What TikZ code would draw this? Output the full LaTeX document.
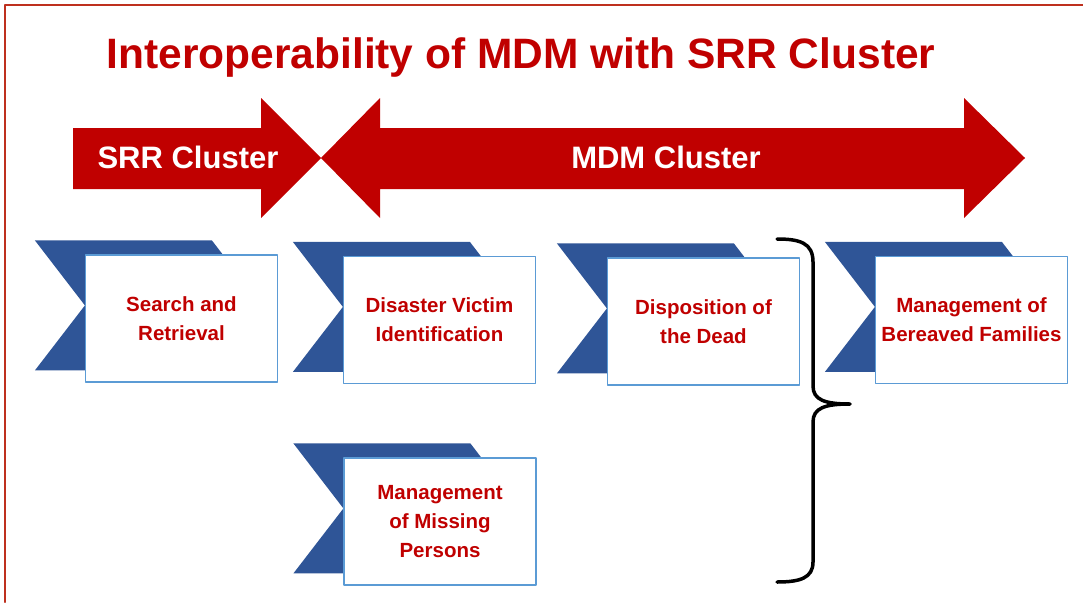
\documentclass[tikz,border=0pt]{standalone}
\usepackage{fontspec}
\setmainfont{Liberation Sans}
\usetikzlibrary{backgrounds}
\definecolor{darkred}{RGB}{192,0,0}
\definecolor{chevblue}{RGB}{47,85,151}
\definecolor{boxblue}{RGB}{91,155,213}
\definecolor{framered}{RGB}{190,48,30}
% chevron behind a box, taken from its north west corner
\newcommand\chevron[1]{\fill[chevblue] ([shift={(-50,-14)}]#1.north west) -- ++(177,0) -- ++(50,65) -- ++(-50,65) -- ++(-177,0) -- ++(50,-65) -- cycle;}
\begin{document}
\begin{tikzpicture}[x=1pt,y=-1pt, line join=round, line cap=round,
  box/.style={draw=boxblue, line width=1.2pt, fill=white, minimum width=192pt, minimum height=127pt,
    align=center, text=darkred, inner sep=2pt, text depth=-6pt, font=\fontsize{20.5}{29}\selectfont\bfseries},
  bigarrow/.style={fill=darkred},
  arrowtext/.style={text=white, anchor=base, font=\fontsize{31}{36}\selectfont\bfseries}]
\def\W{1083} \def\H{602} % Seitengroesse
\useasboundingbox (0,0) rectangle (\W,\H);
\draw[framered, line width=2.5pt] (5,\H) -- (5,5) -- (\W,5);
\node (title) at (521,68) [anchor=base, text=darkred, font=\fontsize{42.5}{48}\selectfont\bfseries]{Interoperability of MDM with SRR Cluster};
% Pfeile
\fill[bigarrow] (73,128) -- (261,128) -- (261,98) -- (321,158) -- (261,218) -- (261,189) -- (73,189) -- cycle;
\fill[bigarrow] (321,158) -- (380,98) -- (380,128) -- (964,128) -- (964,98) -- (1025,158) -- (964,218) -- (964,189) -- (380,189) -- (380,218) -- cycle;
\node (srr) at (188,168) [arrowtext]{SRR Cluster};
\node (mdm) at (666,168) [arrowtext]{MDM Cluster};
% Kaesten
\node (sar) at (181.5,318.5) [box]{Search and\\Retrieval};
\node (dvi) at (439.5,320) [box]{Disaster Victim\\Identification};
\node (dod) at (703.5,321.5) [box]{Disposition of\\the Dead};
\node (mbf) at (971.5,320) [box]{Management of\\Bereaved Families};
\node (mmp) at (440,521.5) [box]{Management\\of Missing\\Persons};
\begin{scope}[on background layer]
\foreach \n in {sar,dvi,dod,mbf,mmp} {\chevron{\n}}
\end{scope}
% Klammer
\coordinate (btop) at (777,239);
\coordinate (btip) at (850,404);
\coordinate (bbot) at (777,582);
\draw[line width=3.5pt] (btop) .. controls (800,239) and (813,243) .. (813,262) -- (813,386) .. controls (813,400) and (825,404) .. (btip) .. controls (825,404) and (813,408) .. (813,422) -- (813,562) .. controls (813,578) and (800,582) .. (bbot);
\end{tikzpicture}
\end{document}
